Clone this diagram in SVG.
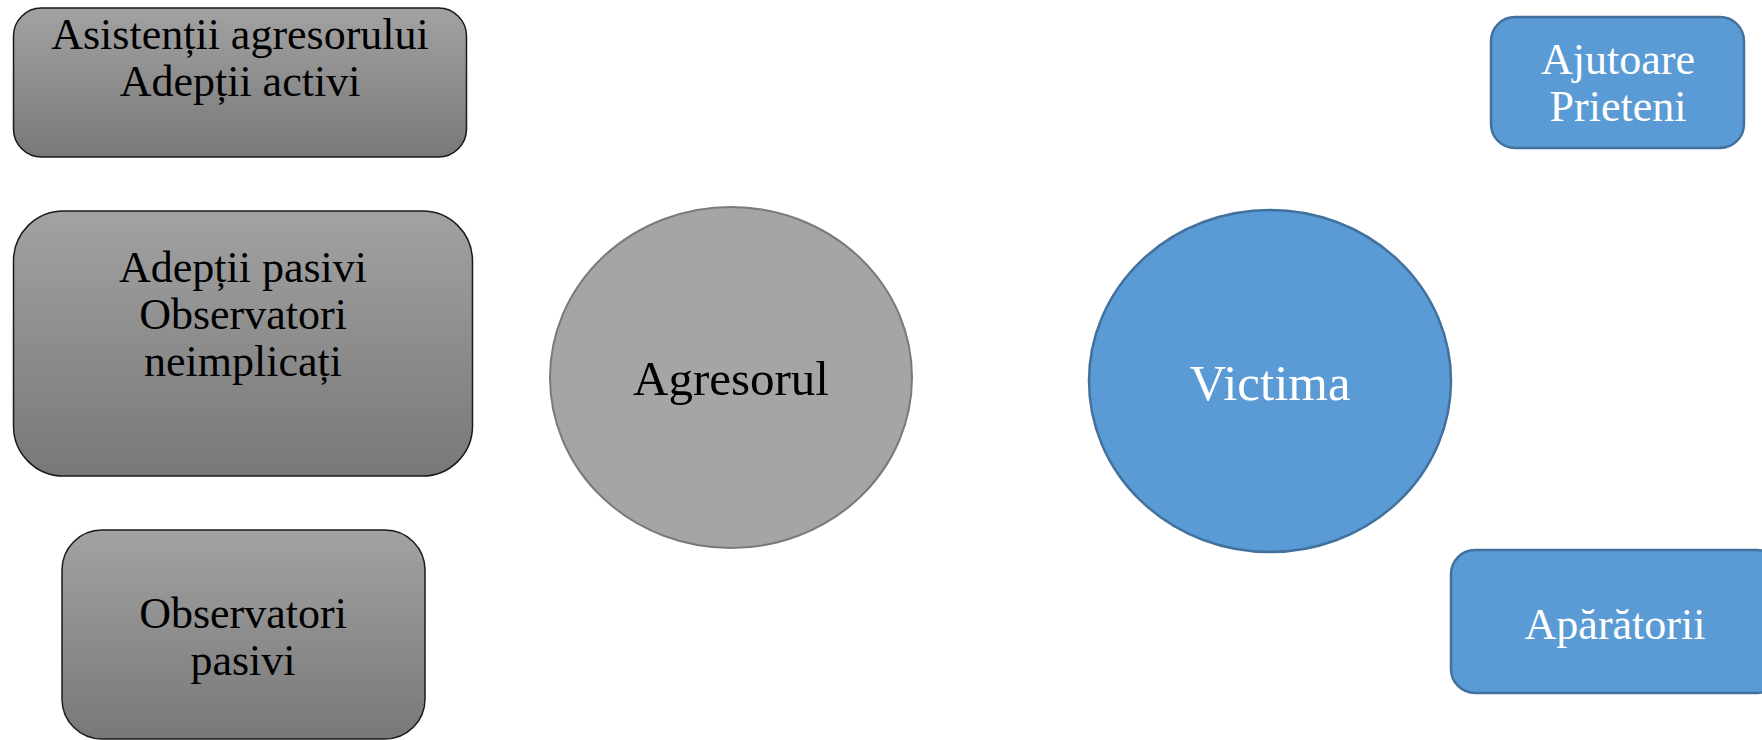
<svg xmlns="http://www.w3.org/2000/svg" width="1762" height="740" viewBox="0 0 1762 740">
<defs>
<linearGradient id="gray" x1="0" y1="0" x2="0" y2="1">
<stop offset="0" stop-color="#a2a2a2"/>
<stop offset="1" stop-color="#787878"/>
</linearGradient>
<style>
.gbox{fill:url(#gray);stroke:#1a1a1a;stroke-width:1.5}
.bbox{fill:#5b9bd5;stroke:#41719c;stroke-width:2.5}
.t{font-family:"Liberation Serif","Times New Roman",serif;font-size:44px;text-anchor:middle;fill:#000}
.w{fill:#fff}
</style>
</defs>
<g id="connectors"></g>
<g id="asistentii">
<rect class="gbox" x="13.5" y="8" width="453" height="149" rx="28"/>
<text class="t" x="240" y="49">Asistenții agresorului</text>
<text class="t" x="240" y="96">Adepții activi</text>
</g>
<g id="adeptii-pasivi">
<rect class="gbox" x="13.5" y="211" width="459" height="265" rx="50"/>
<text class="t" x="243" y="282">Adepții pasivi</text>
<text class="t" x="243" y="329">Observatori</text>
<text class="t" x="243" y="376">neimplicați</text>
</g>
<g id="observatori-pasivi">
<rect class="gbox" x="62" y="530" width="363" height="209" rx="40"/>
<text class="t" x="243" y="628">Observatori</text>
<text class="t" x="243" y="675">pasivi</text>
</g>
<g id="agresorul">
<ellipse cx="731" cy="377.5" rx="181" ry="170.5" fill="#a5a5a5" stroke="#7a7a7a" stroke-width="2"/>
<text class="t" x="731" y="395" style="font-size:49px">Agresorul</text>
</g>
<g id="victima">
<ellipse cx="1270" cy="381" rx="181" ry="171" fill="#5b9bd5" stroke="#41719c" stroke-width="2.5"/>
<text class="t w" x="1270" y="400" style="font-size:51px">Victima</text>
</g>
<g id="ajutoare">
<rect class="bbox" x="1491" y="17" width="253" height="131" rx="24"/>
<text class="t w" x="1618" y="74">Ajutoare</text>
<text class="t w" x="1618" y="121">Prieteni</text>
</g>
<g id="aparatorii">
<rect class="bbox" x="1451" y="550" width="330" height="143" rx="24"/>
<text class="t w" x="1615" y="639">Apărătorii</text>
</g>
</svg>
